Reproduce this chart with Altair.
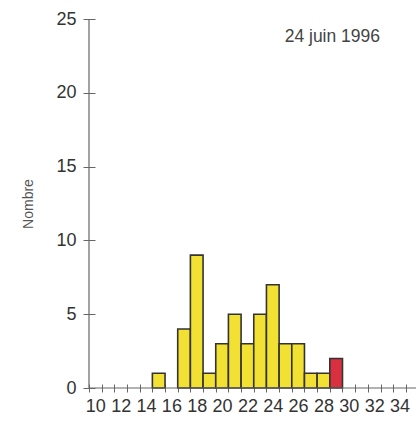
import altair as alt
import pandas as pd

# data
sizes = [15, 17, 18, 19, 20, 21, 22, 23, 24, 25, 26, 27, 28, 29]
counts = [1, 4, 9, 1, 3, 5, 3, 5, 7, 3, 3, 1, 1, 2]
groups = ["a"] * 13 + ["b"]
annotation = "24 juin 1996"
y_title = "Nombre"

df = pd.DataFrame({"size": sizes, "count": counts, "grp": groups})
df["size_end"] = df["size"] + 1

X_MIN, X_MAX = 10, 35.8
Y_MIN, Y_MAX = 0, 25
W, H = 327, 369
unit_px = W / (X_MAX - X_MIN)

xscale = alt.Scale(domain=[X_MIN, X_MAX], nice=False, zero=False)
yscale = alt.Scale(domain=[Y_MIN, Y_MAX], nice=False)

x_axis = alt.Axis(
    values=list(range(10, 36)),
    tickCount=60,
    format="d",
    domain=False,
    grid=False,
    offset=-4,
    tickSize=8,
    tickColor="#666",
    tickWidth=1,
    labelExpr="datum.value % 2 == 0 && datum.value < 35 ? format(datum.value, 'd') : ''",
    labelOffset=unit_px / 2,
    labelOverlap=False,
    labelFont="Liberation Sans",
    labelFontSize=18,
    labelColor="#333",
    labelPadding=5,
    labelBound=False,
    labelFlush=False,
    title=None,
)

y_axis = alt.Axis(
    values=[0, 5, 10, 15, 20, 25],
    format="d",
    domain=False,
    grid=False,
    offset=-6,
    tickSize=12,
    tickColor="#666",
    tickWidth=1,
    labelFont="Liberation Sans",
    labelFontSize=18,
    labelColor="#333",
    labelPadding=7,
    title=y_title,
    titleFont="Liberation Sans",
    titleFontSize=14,
    titleFontWeight="normal",
    titleColor="#555",
    titlePadding=20,
)

bars = alt.Chart(df).mark_bar(stroke="#333", strokeWidth=1.6).encode(
    x=alt.X("size:Q", scale=xscale, axis=x_axis),
    x2="size_end:Q",
    y=alt.Y("count:Q", scale=yscale, axis=y_axis),
    y2=alt.datum(0),
    color=alt.Color(
        "grp:N",
        scale=alt.Scale(domain=["a", "b"], range=["#F2E033", "#D9303F"]),
        legend=None,
    ),
)

ydom = alt.Chart(pd.DataFrame({"a": [0]})).mark_rule(color="#666", strokeWidth=1.2).encode(
    x=alt.datum(X_MIN),
    y=alt.datum(Y_MIN),
    y2=alt.datum(Y_MAX),
)
xdom = alt.Chart(pd.DataFrame({"a": [0]})).mark_rule(color="#666", strokeWidth=1.2).encode(
    x=alt.datum(X_MIN),
    x2=alt.datum(X_MAX),
    y=alt.datum(Y_MIN),
)

txt = alt.Chart(pd.DataFrame({"t": [annotation]})).mark_text(
    font="Liberation Sans", fontSize=17.5, color="#444", align="center", baseline="middle"
).encode(
    x=alt.datum(29.2),
    y=alt.datum(23.8),
    text="t:N",
)

chart = (
    alt.layer(bars, ydom, xdom, txt)
    .properties(
        width=W,
        height=H,
        autosize=alt.AutoSizeParams(type="none"),
        padding={"left": 89, "top": 19, "right": 0, "bottom": 39},
        background="white",
    )
    .configure_view(stroke=None)
)

chart.save("out.html", embed_options={"renderer": "svg", "actions": False})
